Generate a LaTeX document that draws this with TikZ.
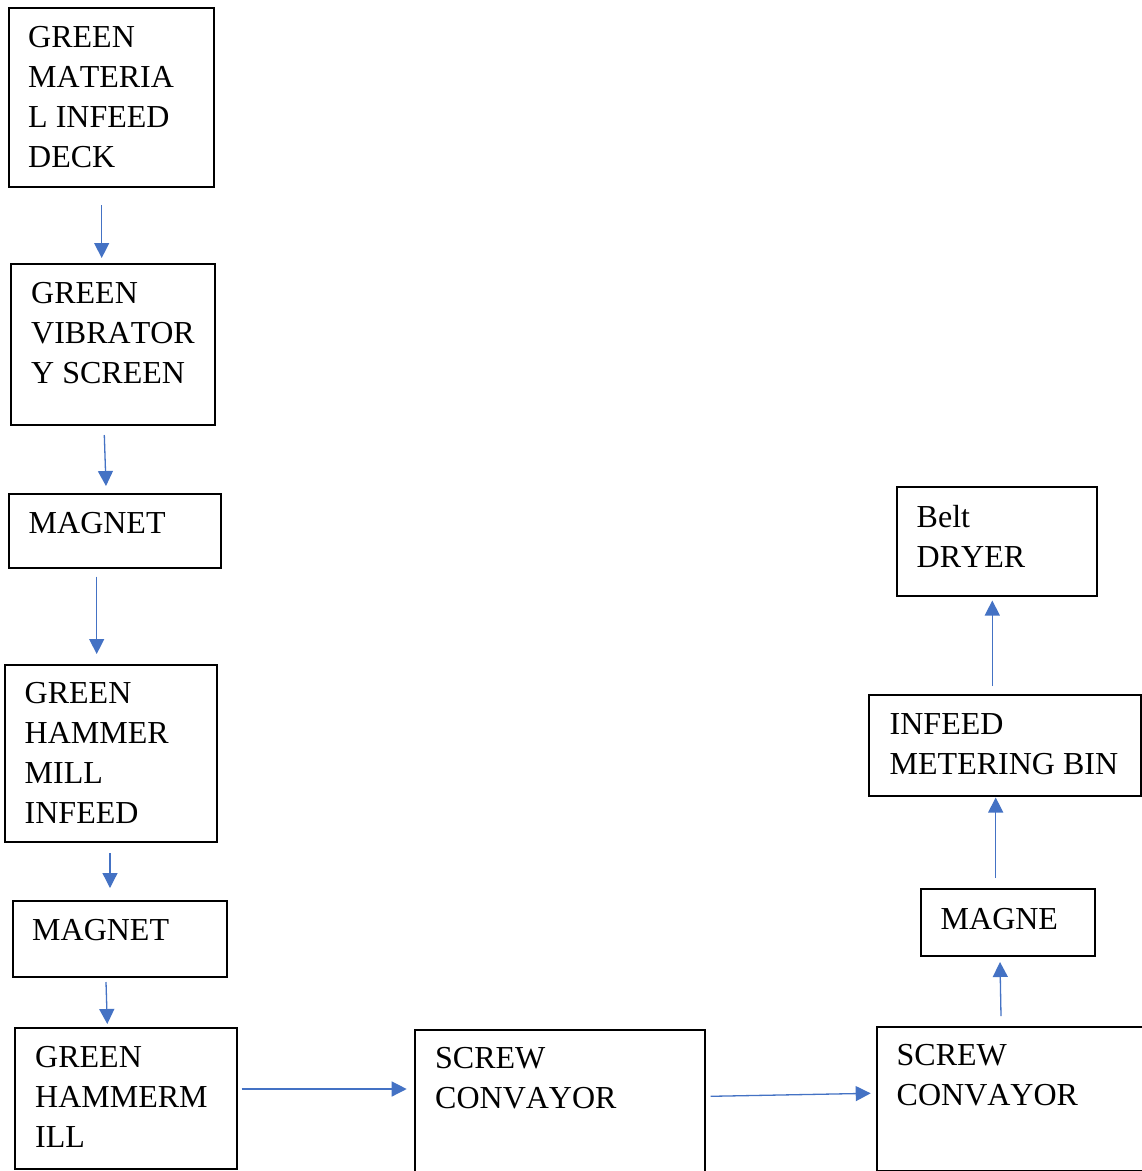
\documentclass[tikz,border=0pt]{standalone}
\usepackage{fontspec}
\setmainfont[Kerning=Off]{Liberation Serif}
\usetikzlibrary{arrows.meta}
\definecolor{arrblue}{HTML}{4472C4}
\tikzset{
  box/.style={draw=black, line width=1.6pt, rectangle, inner sep=0pt, anchor=north west},
  lbl/.style={anchor=north west, inner sep=0pt, align=left, font=\fontsize{32}{40}\selectfont},
  flow/.style={draw=arrblue, line width=1.3pt, -{Triangle[length=15pt,width=15pt]}},
}
\begin{document}
\begin{tikzpicture}[x=1pt,y=-1pt]
\useasboundingbox (0,0) rectangle (1142,1171);
\clip (0,0) rectangle (1142,1171);
\fill[white] (0,0) rectangle (1142,1171);
% boxes
\node[box, minimum width=205pt, minimum height=179pt] (b1) at (8,7) {};
\node[box, minimum width=204pt, minimum height=161pt] (b2) at (10,263) {};
\node[box, minimum width=212pt, minimum height=74pt] (b3) at (8,493) {};
\node[box, minimum width=212pt, minimum height=177pt] (b4) at (4,664) {};
\node[box, minimum width=214pt, minimum height=76pt] (b5) at (12,900) {};
\node[box, minimum width=222pt, minimum height=141pt] (b6) at (14,1027) {};
\node[box, minimum width=290pt, minimum height=160pt] (b7) at (414,1029) {};
\node[box, minimum width=266pt, minimum height=144pt] (b8) at (876,1026) {};
\node[box, minimum width=174pt, minimum height=67pt] (b9) at (920,888) {};
\node[box, minimum width=272pt, minimum height=101pt] (b10) at (868,694) {};
\node[box, minimum width=200pt, minimum height=109pt] (b11) at (896,486) {};
% labels
\node[lbl] (t1) at (28,26) {GREEN\\MATERIA\\L INFEED\\DECK};
\node[lbl] (t2) at (31,282) {GREEN\\VIBRATOR\\Y SCREEN};
\node[lbl] (t3) at (28.5,512) {MAGNET};
\node[lbl] (t4) at (24.5,682) {GREEN\\HAMMER\\MILL\\INFEED};
\node[lbl] (t5) at (32,919) {MAGNET};
\node[lbl] (t6) at (35,1046) {GREEN\\HAMMERM\\ILL};
\node[lbl] (t7) at (435,1047) {SCREW\\CONVAYOR};
\node[lbl] (t8) at (896.5,1044) {SCREW\\CONVAYOR};
\node[lbl] (t9) at (940.5,908) {MAGNE};
\node[lbl] (t10) at (889.5,713) {INFEED\\METERING BIN};
\node[lbl] (t11) at (916.5,505.5) {Belt\\DRYER};
% connector end points
\coordinate (a1s) at (101.7,205);   \coordinate (a1e) at (101.7,258);
\coordinate (a2s) at (104.3,435);   \coordinate (a2e) at (106,486);
\coordinate (a3s) at (96.7,576.7);  \coordinate (a3e) at (96.7,654);
\coordinate (a4s) at (110,853);     \coordinate (a4e) at (110,888);
\coordinate (a5s) at (106,982);     \coordinate (a5e) at (107.3,1024);
\coordinate (a6s) at (241.7,1089);  \coordinate (a6e) at (406.7,1089);
\coordinate (a7s) at (710.7,1096.3);\coordinate (a7e) at (870.7,1093.3);
\coordinate (a8s) at (1001,1016);   \coordinate (a8e) at (1000,962);
\coordinate (a9s) at (995.7,878);   \coordinate (a9e) at (995.7,797.5);
\coordinate (a10s) at (992.3,686);  \coordinate (a10e) at (992.3,600.5);
% connectors
\draw[flow] (a1s) -- (a1e);
\draw[flow] (a2s) -- (a2e);
\draw[flow] (a3s) -- (a3e);
\draw[flow] (a4s) -- (a4e);
\draw[flow] (a5s) -- (a5e);
\draw[flow] (a6s) -- (a6e);
\draw[flow] (a7s) -- (a7e);
\draw[flow] (a8s) -- (a8e);
\draw[flow] (a9s) -- (a9e);
\draw[flow] (a10s) -- (a10e);
\end{tikzpicture}
\end{document}
